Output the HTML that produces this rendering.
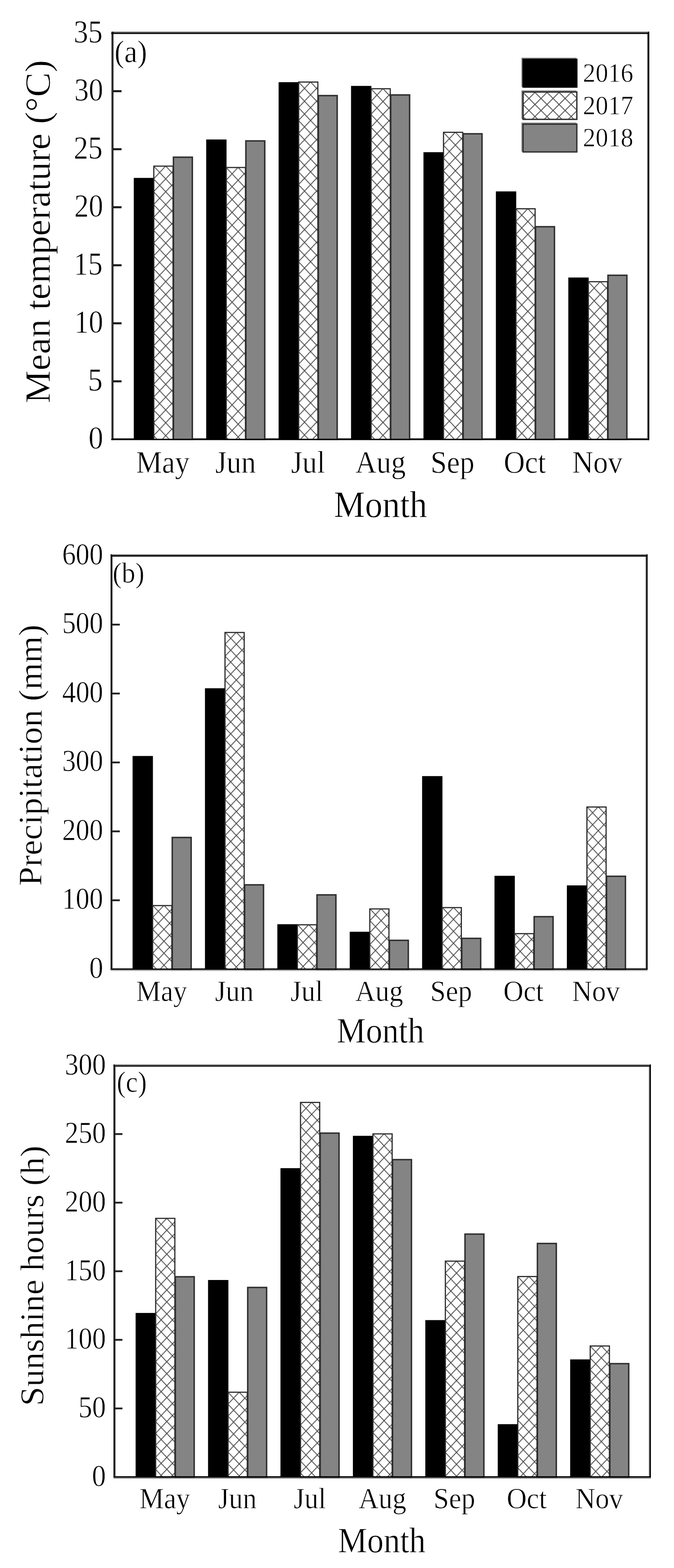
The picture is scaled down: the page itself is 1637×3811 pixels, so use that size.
<!DOCTYPE html>
<html lang="en"><head><meta charset="utf-8"><title>Monthly mean temperature, precipitation and sunshine hours</title>
<style>
html,body{margin:0;padding:0;background:#ffffff;}
body{width:1637px;height:3811px;overflow:hidden;}
svg{display:block;font-family:"Liberation Serif","Times New Roman",Times,serif;}
text{stroke:#fff;stroke-width:0.9px;stroke-linejoin:round;}
</style></head><body>
<svg width="1637" height="3811" viewBox="0 0 1637 3811">
<rect x="0" y="0" width="1637" height="3811" fill="#ffffff"/>
<g id="panel-a">
<rect x="270.10" y="76.90" width="1306.90" height="2.90" fill="#666"/>
<rect x="270.10" y="1065.00" width="1306.90" height="2.00" fill="#505050"/>
<rect x="270.10" y="76.90" width="2.70" height="992.80" fill="#6a6a6a"/>
<rect x="1571.80" y="76.90" width="2.40" height="992.80" fill="#606060"/>
<rect x="324.90" y="432.40" width="49.40" height="635.44" fill="#000"/>
<pattern id="ha0" patternUnits="userSpaceOnUse" x="373.05" y="403.60" width="29.40" height="31.20"><rect width="29.40" height="31.20" fill="#fff"/><path d="M0 0L29.40 31.20M-29.40 0L0 31.20M29.40 0L58.80 31.20M0 31.20L29.40 0M-29.40 31.20L0 0M29.40 31.20L58.80 0" stroke="#4c4c4c" stroke-width="2.1" fill="none"/></pattern>
<rect x="373.60" y="403.80" width="46.60" height="664.04" fill="url(#ha0)" stroke="#2a2a2a" stroke-width="2.8"/>
<rect x="421.25" y="382.05" width="45.90" height="685.79" fill="#848484" stroke="#2e2e2e" stroke-width="3.5"/>
<rect x="500.80" y="339.00" width="49.40" height="728.84" fill="#000"/>
<pattern id="ha1" patternUnits="userSpaceOnUse" x="548.95" y="406.90" width="29.40" height="31.20"><rect width="29.40" height="31.20" fill="#fff"/><path d="M0 0L29.40 31.20M-29.40 0L0 31.20M29.40 0L58.80 31.20M0 31.20L29.40 0M-29.40 31.20L0 0M29.40 31.20L58.80 0" stroke="#4c4c4c" stroke-width="2.1" fill="none"/></pattern>
<rect x="549.50" y="407.10" width="46.60" height="660.74" fill="url(#ha1)" stroke="#2a2a2a" stroke-width="2.8"/>
<rect x="597.15" y="342.45" width="45.90" height="725.39" fill="#848484" stroke="#2e2e2e" stroke-width="3.5"/>
<rect x="676.70" y="199.70" width="49.40" height="868.14" fill="#000"/>
<pattern id="ha2" patternUnits="userSpaceOnUse" x="724.85" y="199.20" width="29.40" height="31.20"><rect width="29.40" height="31.20" fill="#fff"/><path d="M0 0L29.40 31.20M-29.40 0L0 31.20M29.40 0L58.80 31.20M0 31.20L29.40 0M-29.40 31.20L0 0M29.40 31.20L58.80 0" stroke="#4c4c4c" stroke-width="2.1" fill="none"/></pattern>
<rect x="725.40" y="199.40" width="46.60" height="868.44" fill="url(#ha2)" stroke="#2a2a2a" stroke-width="2.8"/>
<rect x="773.05" y="232.35" width="45.90" height="835.49" fill="#848484" stroke="#2e2e2e" stroke-width="3.5"/>
<rect x="852.60" y="208.80" width="49.40" height="859.04" fill="#000"/>
<pattern id="ha3" patternUnits="userSpaceOnUse" x="900.75" y="215.50" width="29.40" height="31.20"><rect width="29.40" height="31.20" fill="#fff"/><path d="M0 0L29.40 31.20M-29.40 0L0 31.20M29.40 0L58.80 31.20M0 31.20L29.40 0M-29.40 31.20L0 0M29.40 31.20L58.80 0" stroke="#4c4c4c" stroke-width="2.1" fill="none"/></pattern>
<rect x="901.30" y="215.70" width="46.60" height="852.14" fill="url(#ha3)" stroke="#2a2a2a" stroke-width="2.8"/>
<rect x="948.95" y="230.75" width="45.90" height="837.09" fill="#848484" stroke="#2e2e2e" stroke-width="3.5"/>
<rect x="1028.50" y="369.90" width="49.40" height="697.94" fill="#000"/>
<pattern id="ha4" patternUnits="userSpaceOnUse" x="1076.65" y="321.40" width="29.40" height="31.20"><rect width="29.40" height="31.20" fill="#fff"/><path d="M0 0L29.40 31.20M-29.40 0L0 31.20M29.40 0L58.80 31.20M0 31.20L29.40 0M-29.40 31.20L0 0M29.40 31.20L58.80 0" stroke="#4c4c4c" stroke-width="2.1" fill="none"/></pattern>
<rect x="1077.20" y="321.60" width="46.60" height="746.24" fill="url(#ha4)" stroke="#2a2a2a" stroke-width="2.8"/>
<rect x="1124.85" y="325.15" width="45.90" height="742.69" fill="#848484" stroke="#2e2e2e" stroke-width="3.5"/>
<rect x="1204.40" y="465.20" width="49.40" height="602.64" fill="#000"/>
<pattern id="ha5" patternUnits="userSpaceOnUse" x="1252.55" y="507.20" width="29.40" height="31.20"><rect width="29.40" height="31.20" fill="#fff"/><path d="M0 0L29.40 31.20M-29.40 0L0 31.20M29.40 0L58.80 31.20M0 31.20L29.40 0M-29.40 31.20L0 0M29.40 31.20L58.80 0" stroke="#4c4c4c" stroke-width="2.1" fill="none"/></pattern>
<rect x="1253.10" y="507.40" width="46.60" height="560.44" fill="url(#ha5)" stroke="#2a2a2a" stroke-width="2.8"/>
<rect x="1300.75" y="551.05" width="45.90" height="516.79" fill="#848484" stroke="#2e2e2e" stroke-width="3.5"/>
<rect x="1380.30" y="674.50" width="49.40" height="393.34" fill="#000"/>
<pattern id="ha6" patternUnits="userSpaceOnUse" x="1428.45" y="684.50" width="29.40" height="31.20"><rect width="29.40" height="31.20" fill="#fff"/><path d="M0 0L29.40 31.20M-29.40 0L0 31.20M29.40 0L58.80 31.20M0 31.20L29.40 0M-29.40 31.20L0 0M29.40 31.20L58.80 0" stroke="#4c4c4c" stroke-width="2.1" fill="none"/></pattern>
<rect x="1429.00" y="684.70" width="46.60" height="383.14" fill="url(#ha6)" stroke="#2a2a2a" stroke-width="2.8"/>
<rect x="1476.65" y="669.05" width="45.90" height="398.79" fill="#848484" stroke="#2e2e2e" stroke-width="3.5"/>
<rect x="270.10" y="79.60" width="1306.90" height="3.00" fill="#000"/>
<rect x="270.10" y="1066.80" width="1306.90" height="2.90" fill="#000"/>
<rect x="272.60" y="76.90" width="2.80" height="992.80" fill="#000"/>
<rect x="1574.00" y="76.90" width="3.00" height="992.80" fill="#000"/>
<line x1="273.40" y1="926.80" x2="295.20" y2="926.80" stroke="#1a1a1a" stroke-width="5.0"/>
<line x1="273.40" y1="785.76" x2="295.20" y2="785.76" stroke="#1a1a1a" stroke-width="5.0"/>
<line x1="273.40" y1="644.72" x2="295.20" y2="644.72" stroke="#1a1a1a" stroke-width="5.0"/>
<line x1="273.40" y1="503.68" x2="295.20" y2="503.68" stroke="#1a1a1a" stroke-width="5.0"/>
<line x1="273.40" y1="362.64" x2="295.20" y2="362.64" stroke="#1a1a1a" stroke-width="5.0"/>
<line x1="273.40" y1="221.60" x2="295.20" y2="221.60" stroke="#1a1a1a" stroke-width="5.0"/>
<text transform="translate(215.05 1089.99) scale(0.9166 1.0000)" font-size="77.84" fill="#000">0</text>
<text transform="translate(213.47 948.95) scale(0.9181 1.0000)" font-size="77.84" fill="#000">5</text>
<text transform="translate(180.42 807.91) scale(0.9026 1.0000)" font-size="77.84" fill="#000">10</text>
<text transform="translate(178.90 666.87) scale(0.9026 1.0000)" font-size="77.84" fill="#000">15</text>
<text transform="translate(180.47 525.83) scale(0.9020 1.0000)" font-size="77.84" fill="#000">20</text>
<text transform="translate(178.95 384.79) scale(0.9020 1.0000)" font-size="77.84" fill="#000">25</text>
<text transform="translate(180.47 243.75) scale(0.9020 1.0000)" font-size="77.84" fill="#000">30</text>
<text transform="translate(178.94 102.71) scale(0.9021 1.0000)" font-size="77.84" fill="#000">35</text>
<text transform="translate(330.55 1148.75) scale(0.9251 1.0000)" font-size="76.64" fill="#000">May</text>
<text transform="translate(522.73 1148.75) scale(0.9273 1.0000)" font-size="76.64" fill="#000">Jun</text>
<text transform="translate(706.63 1148.75) scale(0.9290 1.0000)" font-size="76.64" fill="#000">Jul</text>
<text transform="translate(863.36 1148.75) scale(0.9256 1.0000)" font-size="76.64" fill="#000">Aug</text>
<text transform="translate(1045.73 1148.75) scale(0.9270 1.0000)" font-size="76.64" fill="#000">Sep</text>
<text transform="translate(1223.41 1148.75) scale(0.9270 1.0000)" font-size="76.64" fill="#000">Oct</text>
<text transform="translate(1389.73 1148.75) scale(0.9255 1.0000)" font-size="76.64" fill="#000">Nov</text>
<text transform="translate(811.12 1256.65) scale(0.9241 1.0000)" font-size="91.84" fill="#000">Month</text>
<text transform="translate(121.05 980.33) rotate(-90) scale(1.0011 0.9750)" font-size="89.80">Mean temperature (°C)</text>
<text transform="translate(277.91 151.15) scale(0.9526 1.0000)" font-size="75.14" fill="#000">(a)</text>
<rect x="1266.40" y="140.20" width="133.80" height="70.70" fill="#8a8a8a"/>
<rect x="1268.80" y="142.60" width="133.80" height="70.70" fill="#000"/>
<text transform="translate(1415.85 199.45) scale(0.9221 1.0000)" font-size="66.34" fill="#000">2016</text>
<rect x="1266.40" y="219.60" width="133.80" height="69.70" fill="#8a8a8a"/>
<pattern id="hleg" patternUnits="userSpaceOnUse" x="1270.00" y="224.60" width="29.30" height="29.30"><rect width="29.30" height="29.30" fill="#fff"/><path d="M0 0L29.30 29.30M-29.30 0L0 29.30M29.30 0L58.60 29.30M0 29.30L29.30 0M-29.30 29.30L0 0M29.30 29.30L58.60 0" stroke="#4c4c4c" stroke-width="2.1" fill="none"/></pattern>
<rect x="1270.40" y="223.60" width="130.60" height="66.50" fill="url(#hleg)" stroke="#2a2a2a" stroke-width="3.2"/>
<text transform="translate(1415.85 278.15) scale(0.9221 1.0000)" font-size="66.34" fill="#000">2017</text>
<rect x="1266.40" y="297.80" width="133.80" height="70.70" fill="#8a8a8a"/>
<rect x="1270.40" y="301.80" width="130.60" height="67.50" fill="#848484" stroke="#2e2e2e" stroke-width="3.2"/>
<text transform="translate(1415.85 356.15) scale(0.9222 1.0000)" font-size="66.34" fill="#000">2018</text>
</g>
<g id="panel-b">
<rect x="268.70" y="1347.40" width="1304.20" height="2.40" fill="#666"/>
<rect x="268.70" y="2352.10" width="1304.20" height="2.10" fill="#bbb"/>
<rect x="268.70" y="2357.00" width="1304.20" height="2.90" fill="#b0b0b0"/>
<rect x="271.70" y="1347.40" width="2.10" height="1009.60" fill="#777"/>
<rect x="1567.70" y="1347.40" width="2.30" height="1009.60" fill="#888"/>
<rect x="322.00" y="1837.40" width="49.40" height="518.20" fill="#000"/>
<pattern id="hb0" patternUnits="userSpaceOnUse" x="370.80" y="2200.50" width="27.40" height="29.05"><rect width="27.40" height="29.05" fill="#fff"/><path d="M0 0L27.40 29.05M-27.40 0L0 29.05M27.40 0L54.80 29.05M0 29.05L27.40 0M-27.40 29.05L0 0M27.40 29.05L54.80 0" stroke="#4c4c4c" stroke-width="2.1" fill="none"/></pattern>
<rect x="370.70" y="2201.00" width="46.60" height="154.60" fill="url(#hb0)" stroke="#2a2a2a" stroke-width="2.8"/>
<rect x="418.35" y="2035.45" width="45.90" height="320.15" fill="#848484" stroke="#2e2e2e" stroke-width="3.5"/>
<rect x="497.80" y="1672.80" width="49.40" height="682.80" fill="#000"/>
<pattern id="hb1" patternUnits="userSpaceOnUse" x="546.60" y="1536.70" width="27.40" height="29.05"><rect width="27.40" height="29.05" fill="#fff"/><path d="M0 0L27.40 29.05M-27.40 0L0 29.05M27.40 0L54.80 29.05M0 29.05L27.40 0M-27.40 29.05L0 0M27.40 29.05L54.80 0" stroke="#4c4c4c" stroke-width="2.1" fill="none"/></pattern>
<rect x="546.50" y="1537.20" width="46.60" height="818.40" fill="url(#hb1)" stroke="#2a2a2a" stroke-width="2.8"/>
<rect x="594.15" y="2150.55" width="45.90" height="205.05" fill="#848484" stroke="#2e2e2e" stroke-width="3.5"/>
<rect x="673.60" y="2246.30" width="49.40" height="109.30" fill="#000"/>
<pattern id="hb2" patternUnits="userSpaceOnUse" x="722.40" y="2247.20" width="27.40" height="29.05"><rect width="27.40" height="29.05" fill="#fff"/><path d="M0 0L27.40 29.05M-27.40 0L0 29.05M27.40 0L54.80 29.05M0 29.05L27.40 0M-27.40 29.05L0 0M27.40 29.05L54.80 0" stroke="#4c4c4c" stroke-width="2.1" fill="none"/></pattern>
<rect x="722.30" y="2247.70" width="46.60" height="107.90" fill="url(#hb2)" stroke="#2a2a2a" stroke-width="2.8"/>
<rect x="769.95" y="2174.95" width="45.90" height="180.65" fill="#848484" stroke="#2e2e2e" stroke-width="3.5"/>
<rect x="849.40" y="2264.60" width="49.40" height="91.00" fill="#000"/>
<pattern id="hb3" patternUnits="userSpaceOnUse" x="898.20" y="2208.60" width="27.40" height="29.05"><rect width="27.40" height="29.05" fill="#fff"/><path d="M0 0L27.40 29.05M-27.40 0L0 29.05M27.40 0L54.80 29.05M0 29.05L27.40 0M-27.40 29.05L0 0M27.40 29.05L54.80 0" stroke="#4c4c4c" stroke-width="2.1" fill="none"/></pattern>
<rect x="898.10" y="2209.10" width="46.60" height="146.50" fill="url(#hb3)" stroke="#2a2a2a" stroke-width="2.8"/>
<rect x="945.75" y="2285.45" width="45.90" height="70.15" fill="#848484" stroke="#2e2e2e" stroke-width="3.5"/>
<rect x="1025.20" y="1886.30" width="49.40" height="469.30" fill="#000"/>
<pattern id="hb4" patternUnits="userSpaceOnUse" x="1074.00" y="2205.40" width="27.40" height="29.05"><rect width="27.40" height="29.05" fill="#fff"/><path d="M0 0L27.40 29.05M-27.40 0L0 29.05M27.40 0L54.80 29.05M0 29.05L27.40 0M-27.40 29.05L0 0M27.40 29.05L54.80 0" stroke="#4c4c4c" stroke-width="2.1" fill="none"/></pattern>
<rect x="1073.90" y="2205.90" width="46.60" height="149.70" fill="url(#hb4)" stroke="#2a2a2a" stroke-width="2.8"/>
<rect x="1121.55" y="2280.65" width="45.90" height="74.95" fill="#848484" stroke="#2e2e2e" stroke-width="3.5"/>
<rect x="1201.00" y="2128.60" width="49.40" height="227.00" fill="#000"/>
<pattern id="hb5" patternUnits="userSpaceOnUse" x="1249.80" y="2268.70" width="27.40" height="29.05"><rect width="27.40" height="29.05" fill="#fff"/><path d="M0 0L27.40 29.05M-27.40 0L0 29.05M27.40 0L54.80 29.05M0 29.05L27.40 0M-27.40 29.05L0 0M27.40 29.05L54.80 0" stroke="#4c4c4c" stroke-width="2.1" fill="none"/></pattern>
<rect x="1249.70" y="2269.20" width="46.60" height="86.40" fill="url(#hb5)" stroke="#2a2a2a" stroke-width="2.8"/>
<rect x="1297.35" y="2227.95" width="45.90" height="127.65" fill="#848484" stroke="#2e2e2e" stroke-width="3.5"/>
<rect x="1376.80" y="2151.90" width="49.40" height="203.70" fill="#000"/>
<pattern id="hb6" patternUnits="userSpaceOnUse" x="1425.60" y="1960.90" width="27.40" height="29.05"><rect width="27.40" height="29.05" fill="#fff"/><path d="M0 0L27.40 29.05M-27.40 0L0 29.05M27.40 0L54.80 29.05M0 29.05L27.40 0M-27.40 29.05L0 0M27.40 29.05L54.80 0" stroke="#4c4c4c" stroke-width="2.1" fill="none"/></pattern>
<rect x="1425.50" y="1961.40" width="46.60" height="394.20" fill="url(#hb6)" stroke="#2a2a2a" stroke-width="2.8"/>
<rect x="1473.15" y="2129.75" width="45.90" height="225.85" fill="#848484" stroke="#2e2e2e" stroke-width="3.5"/>
<rect x="268.70" y="1349.60" width="1304.20" height="3.20" fill="#000"/>
<rect x="268.70" y="2354.10" width="1304.20" height="2.90" fill="#000"/>
<rect x="268.70" y="1347.40" width="3.10" height="1009.60" fill="#000"/>
<rect x="1569.80" y="1347.40" width="3.10" height="1009.60" fill="#000"/>
<line x1="271.30" y1="2188.10" x2="291.00" y2="2188.10" stroke="#222" stroke-width="4.4"/>
<line x1="271.30" y1="2020.60" x2="291.00" y2="2020.60" stroke="#222" stroke-width="4.4"/>
<line x1="271.30" y1="1853.10" x2="291.00" y2="1853.10" stroke="#222" stroke-width="4.4"/>
<line x1="271.30" y1="1685.60" x2="291.00" y2="1685.60" stroke="#222" stroke-width="4.4"/>
<line x1="271.30" y1="1518.10" x2="291.00" y2="1518.10" stroke="#222" stroke-width="4.4"/>
<text transform="translate(216.64 2376.75) scale(0.9222 1.0000)" font-size="73.64" fill="#000">0</text>
<text transform="translate(150.87 2209.25) scale(0.9023 1.0000)" font-size="73.64" fill="#000">100</text>
<text transform="translate(150.90 2041.75) scale(0.9020 1.0000)" font-size="73.64" fill="#000">200</text>
<text transform="translate(150.90 1874.25) scale(0.9020 1.0000)" font-size="73.64" fill="#000">300</text>
<text transform="translate(150.92 1706.75) scale(0.9019 1.0000)" font-size="73.64" fill="#000">400</text>
<text transform="translate(150.89 1539.25) scale(0.9021 1.0000)" font-size="73.64" fill="#000">500</text>
<text transform="translate(150.90 1371.75) scale(0.9020 1.0000)" font-size="73.64" fill="#000">600</text>
<text transform="translate(330.85 2432.55) scale(0.9261 1.0000)" font-size="72.84" fill="#000">May</text>
<text transform="translate(522.13 2432.55) scale(0.9283 1.0000)" font-size="72.84" fill="#000">Jun</text>
<text transform="translate(705.55 2432.55) scale(0.9302 1.0000)" font-size="72.84" fill="#000">Jul</text>
<text transform="translate(863.11 2432.55) scale(0.9265 1.0000)" font-size="72.84" fill="#000">Aug</text>
<text transform="translate(1045.07 2432.55) scale(0.9281 1.0000)" font-size="72.84" fill="#000">Sep</text>
<text transform="translate(1222.56 2432.55) scale(0.9281 1.0000)" font-size="72.84" fill="#000">Oct</text>
<text transform="translate(1389.25 2432.55) scale(0.9265 1.0000)" font-size="72.84" fill="#000">Nov</text>
<text transform="translate(817.86 2534.15) scale(0.9225 1.0000)" font-size="86.34" fill="#000">Month</text>
<text transform="translate(101.25 2153.17) rotate(-90) scale(1.0014 0.9721)" font-size="83.65">Precipitation (mm)</text>
<text transform="translate(273.53 1415.65) scale(0.9427 1.0000)" font-size="70.34" fill="#000">(b)</text>
</g>
<g id="panel-c">
<rect x="275.70" y="2587.30" width="1305.20" height="2.50" fill="#606060"/>
<rect x="275.70" y="3591.00" width="1305.20" height="2.80" fill="#888"/>
<rect x="278.70" y="2587.30" width="2.30" height="1003.70" fill="#707070"/>
<rect x="1575.70" y="2587.30" width="2.30" height="1003.70" fill="#888"/>
<rect x="329.40" y="3191.10" width="49.40" height="398.80" fill="#000"/>
<pattern id="hc0" patternUnits="userSpaceOnUse" x="377.70" y="2961.10" width="27.40" height="29.05"><rect width="27.40" height="29.05" fill="#fff"/><path d="M0 0L27.40 29.05M-27.40 0L0 29.05M27.40 0L54.80 29.05M0 29.05L27.40 0M-27.40 29.05L0 0M27.40 29.05L54.80 0" stroke="#4c4c4c" stroke-width="2.1" fill="none"/></pattern>
<rect x="378.10" y="2961.20" width="46.60" height="628.70" fill="url(#hc0)" stroke="#2a2a2a" stroke-width="2.8"/>
<rect x="425.75" y="3103.15" width="45.90" height="486.75" fill="#848484" stroke="#2e2e2e" stroke-width="3.5"/>
<rect x="505.30" y="3111.00" width="49.40" height="478.90" fill="#000"/>
<pattern id="hc1" patternUnits="userSpaceOnUse" x="553.60" y="3383.70" width="27.40" height="29.05"><rect width="27.40" height="29.05" fill="#fff"/><path d="M0 0L27.40 29.05M-27.40 0L0 29.05M27.40 0L54.80 29.05M0 29.05L27.40 0M-27.40 29.05L0 0M27.40 29.05L54.80 0" stroke="#4c4c4c" stroke-width="2.1" fill="none"/></pattern>
<rect x="554.00" y="3383.80" width="46.60" height="206.10" fill="url(#hc1)" stroke="#2a2a2a" stroke-width="2.8"/>
<rect x="601.65" y="3129.15" width="45.90" height="460.75" fill="#848484" stroke="#2e2e2e" stroke-width="3.5"/>
<rect x="681.20" y="2839.20" width="49.40" height="750.70" fill="#000"/>
<pattern id="hc2" patternUnits="userSpaceOnUse" x="729.50" y="2679.30" width="27.40" height="29.05"><rect width="27.40" height="29.05" fill="#fff"/><path d="M0 0L27.40 29.05M-27.40 0L0 29.05M27.40 0L54.80 29.05M0 29.05L27.40 0M-27.40 29.05L0 0M27.40 29.05L54.80 0" stroke="#4c4c4c" stroke-width="2.1" fill="none"/></pattern>
<rect x="729.90" y="2679.40" width="46.60" height="910.50" fill="url(#hc2)" stroke="#2a2a2a" stroke-width="2.8"/>
<rect x="777.55" y="2754.05" width="45.90" height="835.85" fill="#848484" stroke="#2e2e2e" stroke-width="3.5"/>
<rect x="857.10" y="2760.60" width="49.40" height="829.30" fill="#000"/>
<pattern id="hc3" patternUnits="userSpaceOnUse" x="905.40" y="2755.80" width="27.40" height="29.05"><rect width="27.40" height="29.05" fill="#fff"/><path d="M0 0L27.40 29.05M-27.40 0L0 29.05M27.40 0L54.80 29.05M0 29.05L27.40 0M-27.40 29.05L0 0M27.40 29.05L54.80 0" stroke="#4c4c4c" stroke-width="2.1" fill="none"/></pattern>
<rect x="905.80" y="2755.90" width="46.60" height="834.00" fill="url(#hc3)" stroke="#2a2a2a" stroke-width="2.8"/>
<rect x="953.45" y="2818.45" width="45.90" height="771.45" fill="#848484" stroke="#2e2e2e" stroke-width="3.5"/>
<rect x="1033.00" y="3208.50" width="49.40" height="381.40" fill="#000"/>
<pattern id="hc4" patternUnits="userSpaceOnUse" x="1081.30" y="3065.10" width="27.40" height="29.05"><rect width="27.40" height="29.05" fill="#fff"/><path d="M0 0L27.40 29.05M-27.40 0L0 29.05M27.40 0L54.80 29.05M0 29.05L27.40 0M-27.40 29.05L0 0M27.40 29.05L54.80 0" stroke="#4c4c4c" stroke-width="2.1" fill="none"/></pattern>
<rect x="1081.70" y="3065.20" width="46.60" height="524.70" fill="url(#hc4)" stroke="#2a2a2a" stroke-width="2.8"/>
<rect x="1129.35" y="2999.45" width="45.90" height="590.45" fill="#848484" stroke="#2e2e2e" stroke-width="3.5"/>
<rect x="1208.90" y="3461.40" width="49.40" height="128.50" fill="#000"/>
<pattern id="hc5" patternUnits="userSpaceOnUse" x="1257.20" y="3102.50" width="27.40" height="29.05"><rect width="27.40" height="29.05" fill="#fff"/><path d="M0 0L27.40 29.05M-27.40 0L0 29.05M27.40 0L54.80 29.05M0 29.05L27.40 0M-27.40 29.05L0 0M27.40 29.05L54.80 0" stroke="#4c4c4c" stroke-width="2.1" fill="none"/></pattern>
<rect x="1257.60" y="3102.60" width="46.60" height="487.30" fill="url(#hc5)" stroke="#2a2a2a" stroke-width="2.8"/>
<rect x="1305.25" y="3022.25" width="45.90" height="567.65" fill="#848484" stroke="#2e2e2e" stroke-width="3.5"/>
<rect x="1384.80" y="3304.00" width="49.40" height="285.90" fill="#000"/>
<pattern id="hc6" patternUnits="userSpaceOnUse" x="1433.10" y="3271.30" width="27.40" height="29.05"><rect width="27.40" height="29.05" fill="#fff"/><path d="M0 0L27.40 29.05M-27.40 0L0 29.05M27.40 0L54.80 29.05M0 29.05L27.40 0M-27.40 29.05L0 0M27.40 29.05L54.80 0" stroke="#4c4c4c" stroke-width="2.1" fill="none"/></pattern>
<rect x="1433.50" y="3271.40" width="46.60" height="318.50" fill="url(#hc6)" stroke="#2a2a2a" stroke-width="2.8"/>
<rect x="1481.15" y="3314.35" width="45.90" height="275.55" fill="#848484" stroke="#2e2e2e" stroke-width="3.5"/>
<rect x="275.70" y="2589.60" width="1305.20" height="3.00" fill="#111"/>
<rect x="275.70" y="3588.00" width="1305.20" height="3.00" fill="#000"/>
<rect x="275.70" y="2587.30" width="3.10" height="1003.70" fill="#000"/>
<rect x="1577.80" y="2587.30" width="3.10" height="1003.70" fill="#000"/>
<line x1="278.30" y1="3423.18" x2="297.40" y2="3423.18" stroke="#222" stroke-width="4.4"/>
<line x1="278.30" y1="3256.47" x2="297.40" y2="3256.47" stroke="#222" stroke-width="4.4"/>
<line x1="278.30" y1="3089.75" x2="297.40" y2="3089.75" stroke="#222" stroke-width="4.4"/>
<line x1="278.30" y1="2923.03" x2="297.40" y2="2923.03" stroke="#222" stroke-width="4.4"/>
<line x1="278.30" y1="2756.32" x2="297.40" y2="2756.32" stroke="#222" stroke-width="4.4"/>
<text transform="translate(223.34 3611.85) scale(0.9222 1.0000)" font-size="73.64" fill="#000">0</text>
<text transform="translate(190.47 3445.13) scale(0.9069 1.0000)" font-size="73.64" fill="#000">50</text>
<text transform="translate(157.57 3278.42) scale(0.9023 1.0000)" font-size="73.64" fill="#000">100</text>
<text transform="translate(157.57 3111.70) scale(0.9023 1.0000)" font-size="73.64" fill="#000">150</text>
<text transform="translate(157.60 2944.98) scale(0.9020 1.0000)" font-size="73.64" fill="#000">200</text>
<text transform="translate(157.60 2778.27) scale(0.9020 1.0000)" font-size="73.64" fill="#000">250</text>
<text transform="translate(157.60 2611.55) scale(0.9020 1.0000)" font-size="73.64" fill="#000">300</text>
<text transform="translate(338.51 3665.65) scale(0.9260 1.0000)" font-size="72.54" fill="#000">May</text>
<text transform="translate(529.83 3665.65) scale(0.9283 1.0000)" font-size="72.54" fill="#000">Jun</text>
<text transform="translate(713.31 3665.65) scale(0.9302 1.0000)" font-size="72.54" fill="#000">Jul</text>
<text transform="translate(871.05 3665.65) scale(0.9265 1.0000)" font-size="72.54" fill="#000">Aug</text>
<text transform="translate(1053.08 3665.65) scale(0.9281 1.0000)" font-size="72.54" fill="#000">Sep</text>
<text transform="translate(1230.67 3665.65) scale(0.9280 1.0000)" font-size="72.54" fill="#000">Oct</text>
<text transform="translate(1397.49 3665.65) scale(0.9265 1.0000)" font-size="72.54" fill="#000">Nov</text>
<text transform="translate(820.85 3773.15) scale(0.9225 1.0000)" font-size="86.54" fill="#000">Month</text>
<text transform="translate(104.85 3416.90) rotate(-90) scale(1.0014 0.9721)" font-size="83.60">Sunshine hours (h)</text>
<text transform="translate(283.55 2654.45) scale(0.9287 1.0000)" font-size="70.94" fill="#000">(c)</text>
</g>
</svg>
</body></html>
